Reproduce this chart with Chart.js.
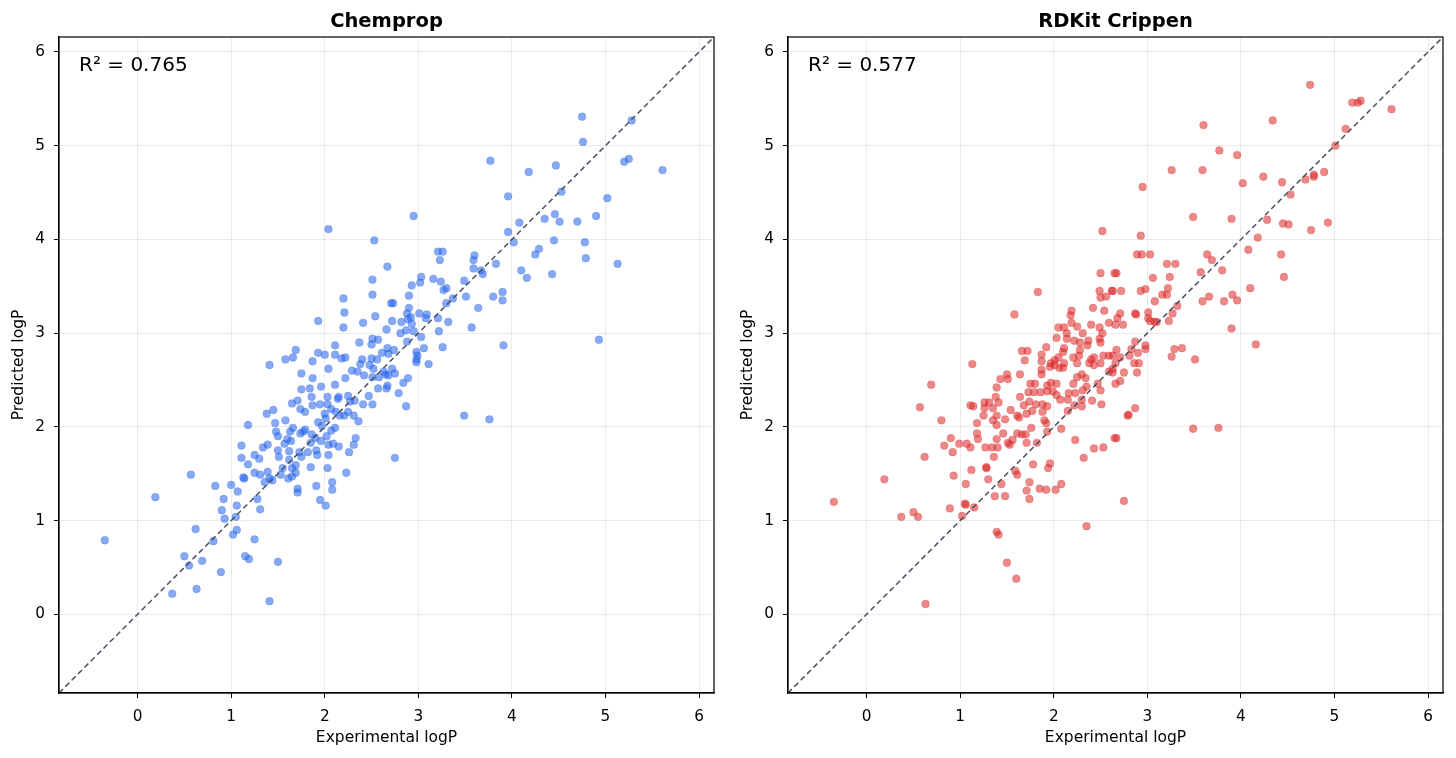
<!DOCTYPE html>
<html lang="en">
<head>
    <meta charset="UTF-8">
    <title>logP parity plots</title>
    <script src="https://cdn.jsdelivr.net/npm/chart.js"></script>
    <style>
        body { margin: 0; background: #fff; }
        canvas { position: absolute; top: 0; }
        #chemChart { left: 0; }
        #crippenChart { left: 729px; }
    </style>
</head>
<body>
    <canvas id="chemChart" width="728" height="758"></canvas>
    <canvas id="crippenChart" width="728" height="758"></canvas>

    <script>
        // axis limits shared by both panels (square, y = x line runs corner to corner)
        const axisMin = -0.84;
        const axisMax = 6.16;
        const tickValues = [0, 1, 2, 3, 4, 5, 6];

        const panelTitles = ['Chemprop', 'RDKit Crippen'];
        const r2Values = ['0.765', '0.577'];

        // Chemprop: experimental vs predicted logP
        const chemExp = [
            4.75, 5.28, 4.76, 3.77, 4.47, 4.18, 5.20, 5.25, 5.61, 3.96, 4.53, 5.02, 2.95, 4.08, 4.35, 4.46, 4.51, 4.70, 4.90, 3.96,
            4.02, 4.45, 4.78, 4.29, 4.25, 4.79, 5.13, 3.21, 3.26, 3.23, 3.60, 3.59, 3.59, 3.67, 3.69, 3.83, 4.10, 4.16, 4.43, 2.67,
            3.03, 3.02, 2.93, 3.16, 3.24, 3.27, 3.30, 3.49, 3.37, 3.30, 3.51, 3.80, 3.90, 3.90, 3.64, 2.90, 2.71, 2.73, 2.90, 2.88,
            2.92, 2.89, 3.01, 3.09, 3.08, 3.21, 3.32, 2.72, 2.82, 2.93, 2.66, 2.87, 2.95, 2.81, 3.22, 3.57, 3.03, 2.88, 3.26, 3.06,
            3.91, 4.93, 2.67, 2.74, 2.68, 2.98, 2.99, 2.98, 3.11, 2.98, 2.72, 2.75, 2.65, 2.67, 2.66, 2.84, 2.89, 2.79, 2.87, 3.49,
            3.76, 2.75, 2.04, 2.53, 2.51, 2.51, 2.20, 2.21, 2.54, 1.93, 2.41, 2.20, 2.37, 2.50, 2.51, 2.57, 2.11, 1.69, 1.93, 2.00,
            2.11, 2.18, 2.22, 1.58, 1.66, 1.87, 2.40, 2.50, 2.56, 2.61, 2.38, 2.48, 1.41, 1.75, 1.87, 2.04, 2.11, 1.75, 1.84, 1.96,
            2.22, 2.29, 2.35, 2.42, 2.52, 2.51, 2.58, 2.63, 2.68, 2.57, 2.47, 2.51, 2.41, 2.32, 2.27, 2.25, 2.15, 2.14, 2.03, 1.86,
            1.95, 1.87, 1.65, 1.71, 1.74, 1.79, 2.03, 2.07, 2.12, 2.16, 2.21, 2.25, 2.31, 2.36, 1.45, 1.38, 1.58, 1.47, 1.93, 1.97,
            2.01, 2.00, 2.11, 2.07, 1.18, 1.66, 1.79, 1.74, 1.77, 1.48, 1.50, 1.63, 1.60, 1.64, 1.39, 1.34, 1.11, 1.86, 1.90, 1.85,
            1.96, 2.02, 2.04, 2.09, 2.15, 2.31, 2.33, 1.50, 1.51, 1.57, 1.62, 1.73, 1.75, 1.82, 1.91, 1.92, 2.04, 1.11, 1.18, 1.25,
            1.30, 2.26, 1.25, 1.31, 1.39, 1.41, 1.36, 1.44, 1.53, 1.55, 1.62, 1.65, 1.69, 1.65, 1.61, 1.69, 1.85, 2.03, 2.08, 2.08,
            2.23, 1.91, 1.95, 2.01, 1.71, 1.71, 1.13, 1.14, 0.83, 1.00, 1.07, 0.57, 0.19, 0.92, 0.90, 0.93, 1.06, 1.05, 1.28, 1.31,
            1.02, 1.06, 1.25, 0.62, 0.81, -0.35, 0.50, 0.55, 0.69, 1.15, 1.19, 1.50, 0.89, 0.37, 0.63, 1.41
        ];
        const chemPred = [
            5.31, 5.27, 5.04, 4.84, 4.79, 4.72, 4.83, 4.86, 4.74, 4.46, 4.51, 4.44, 4.25, 4.18, 4.22, 4.27, 4.19, 4.19, 4.25, 4.08,
            3.97, 3.99, 3.97, 3.90, 3.84, 3.80, 3.74, 3.87, 3.87, 3.78, 3.83, 3.78, 3.69, 3.67, 3.63, 3.74, 3.67, 3.59, 3.63, 3.71,
            3.60, 3.54, 3.51, 3.58, 3.55, 3.46, 3.48, 3.56, 3.37, 3.32, 3.39, 3.39, 3.44, 3.35, 3.27, 3.40, 3.32, 3.32, 3.27, 3.21,
            3.17, 3.15, 3.21, 3.20, 3.16, 3.16, 3.12, 3.13, 3.12, 3.10, 3.04, 3.03, 3.02, 3.00, 3.02, 3.06, 2.96, 2.91, 2.85, 2.84,
            2.87, 2.93, 2.84, 2.82, 2.78, 2.80, 2.76, 2.72, 2.67, 2.69, 2.62, 2.57, 2.56, 2.44, 2.41, 2.47, 2.52, 2.36, 2.22, 2.12,
            2.08, 1.67, 4.11, 3.99, 3.57, 3.41, 3.37, 3.22, 3.18, 3.13, 3.11, 3.06, 2.90, 2.88, 2.94, 2.93, 2.87, 2.82, 2.79, 2.77,
            2.77, 2.73, 2.74, 2.72, 2.74, 2.70, 2.72, 2.73, 2.72, 2.79, 2.67, 2.66, 2.66, 2.57, 2.52, 2.62, 2.45, 2.40, 2.41, 2.43,
            2.52, 2.60, 2.59, 2.55, 2.62, 2.53, 2.53, 2.59, 2.55, 2.41, 2.33, 2.24, 2.24, 2.28, 2.27, 2.33, 2.32, 2.30, 2.32, 2.32,
            2.24, 2.23, 2.25, 2.28, 2.19, 2.16, 2.24, 2.19, 2.16, 2.12, 2.12, 2.16, 2.12, 2.06, 2.18, 2.14, 2.07, 2.04, 2.05, 2.01,
            2.09, 2.14, 1.99, 1.96, 2.02, 1.99, 1.97, 1.93, 1.95, 1.95, 1.90, 1.95, 1.87, 1.85, 1.81, 1.78, 1.80, 1.92, 1.88, 1.83,
            1.85, 1.90, 1.81, 1.82, 1.79, 1.81, 1.88, 1.75, 1.68, 1.82, 1.74, 1.73, 1.68, 1.73, 1.75, 1.70, 1.70, 1.67, 1.60, 1.70,
            1.66, 1.73, 1.51, 1.49, 1.52, 1.45, 1.41, 1.43, 1.49, 1.56, 1.65, 1.56, 1.59, 1.47, 1.45, 1.51, 1.57, 1.56, 1.41, 1.33,
            1.51, 1.37, 1.22, 1.16, 1.34, 1.30, 1.46, 1.45, 1.37, 1.38, 1.31, 1.49, 1.25, 1.23, 1.11, 1.02, 1.16, 1.04, 1.23, 1.12,
            0.85, 0.90, 0.80, 0.91, 0.78, 0.79, 0.62, 0.52, 0.57, 0.62, 0.59, 0.56, 0.45, 0.22, 0.27, 0.14
        ];

        // RDKit Crippen: experimental vs predicted logP
        const crippenExp = [
            4.74, 5.19, 5.25, 5.28, 5.61, 3.60, 4.34, 5.12, 5.01, 3.77, 3.96, 3.26, 3.59, 2.95, 4.02, 4.24, 4.44, 4.53, 4.69, 4.78,
            4.78, 4.89, 3.49, 3.90, 4.28, 4.45, 4.51, 4.75, 4.93, 2.93, 4.18, 4.08, 4.43, 2.89, 2.94, 3.03, 3.64, 3.69, 3.21, 3.30,
            2.67, 3.57, 3.80, 4.46, 3.06, 3.24, 2.63, 2.72, 2.93, 2.98, 3.22, 3.16, 3.21, 3.08, 3.59, 3.66, 3.82, 3.91, 3.96, 4.10,
            3.32, 2.71, 2.68, 2.66, 2.74, 2.87, 2.88, 3.01, 3.01, 3.03, 3.08, 3.10, 3.27, 3.23, 3.90, 4.16, 2.87, 2.83, 2.98, 2.98,
            2.67, 2.81, 2.90, 3.29, 3.37, 3.26, 3.51, 2.63, 2.71, 2.66, 2.86, 2.91, 2.63, 2.75, 2.89, 2.71, 2.66, 2.87, 2.79, 2.80,
            3.49, 3.76, 2.67, 2.75, 2.52, 2.50, 2.65, 1.83, 2.49, 2.62, 2.50, 2.56, 1.58, 2.19, 2.18, 2.42, 2.54, 2.19, 2.25, 2.40,
            2.59, 2.05, 2.11, 2.14, 2.31, 2.49, 2.52, 2.03, 2.14, 2.22, 2.28, 2.37, 2.36, 2.49, 2.50, 1.66, 1.72, 1.87, 1.92, 2.11,
            2.10, 2.28, 1.69, 1.87, 2.01, 2.05, 2.21, 2.27, 2.40, 2.43, 2.53, 2.59, 1.13, 1.97, 2.11, 2.25, 2.38, 2.50, 0.69, 0.57,
            0.80, 1.11, 1.14, 1.26, 1.31, 1.26, 1.35, 1.41, 1.38, 1.39, 1.43, 1.50, 1.51, 1.64, 1.87, 1.87, 1.96, 2.01, 2.06, 2.10,
            2.43, 1.75, 1.80, 1.93, 1.97, 2.03, 2.21, 2.25, 2.30, 2.34, 2.47, 2.59, 2.63, 1.64, 1.73, 1.79, 1.86, 1.93, 1.99, 2.03,
            2.16, 2.23, 2.31, 2.35, 2.50, 1.68, 1.74, 1.81, 1.88, 1.93, 2.07, 2.15, 2.22, 2.30, 2.30, 2.41, 2.51, 1.25, 1.35, 1.39,
            1.39, 1.48, 1.54, 1.61, 1.63, 1.71, 1.77, 1.88, 1.90, 1.92, 2.15, 1.18, 1.18, 1.19, 0.90, 0.83, 0.92, 0.99, 1.07, 1.11,
            1.27, 1.34, 1.40, 1.39, 1.46, 1.51, 1.53, 1.56, 1.61, 1.66, 1.70, 1.76, 1.71, 1.82, 1.93, 2.08, 2.23, 0.62, 1.36, 1.28,
            1.28, 1.12, 0.93, 0.19, 1.30, 1.06, 1.44, 1.59, 1.61, 1.78, 1.96, 1.94, 2.32, 2.43, 2.53, 2.65, 1.74, 1.71, 1.74, 1.85,
            1.92, 2.02, 2.08, 1.37, 1.48, -0.35, 0.89, 1.05, 1.06, 1.15, 0.37, 0.50, 0.55, 1.02, 2.35, 1.39, 1.41, 1.50, 1.60, 0.63
        ];
        const crippenPred = [
            5.65, 5.46, 5.46, 5.48, 5.39, 5.22, 5.27, 5.18, 5.00, 4.95, 4.90, 4.74, 4.74, 4.56, 4.60, 4.67, 4.61, 4.48, 4.64, 4.69,
            4.67, 4.72, 4.24, 4.22, 4.21, 4.17, 4.16, 4.10, 4.18, 4.04, 4.02, 3.89, 3.84, 3.84, 3.84, 3.84, 3.84, 3.78, 3.74, 3.74,
            3.64, 3.65, 3.67, 3.60, 3.59, 3.60, 3.45, 3.45, 3.45, 3.47, 3.48, 3.41, 3.41, 3.34, 3.34, 3.39, 3.34, 3.41, 3.35, 3.48,
            3.29, 3.21, 3.16, 3.09, 3.09, 3.21, 3.20, 3.22, 3.16, 3.13, 3.12, 3.12, 3.21, 3.13, 3.05, 2.88, 2.91, 2.83, 2.87, 2.83,
            2.82, 2.76, 2.79, 2.83, 2.84, 2.75, 2.72, 2.76, 2.74, 2.68, 2.68, 2.68, 2.58, 2.58, 2.58, 2.49, 2.46, 2.20, 2.12, 2.13,
            1.98, 1.99, 1.88, 1.21, 4.09, 3.64, 3.64, 3.44, 3.45, 3.45, 3.38, 3.39, 3.20, 3.24, 3.19, 3.27, 3.24, 3.11, 3.07, 3.09,
            3.11, 3.06, 3.06, 3.00, 3.00, 3.06, 3.00, 2.95, 2.94, 2.92, 2.90, 2.92, 2.87, 2.94, 2.90, 2.81, 2.81, 2.77, 2.85, 2.84,
            2.80, 2.82, 2.71, 2.70, 2.71, 2.74, 2.74, 2.76, 2.72, 2.74, 2.76, 2.76, 2.67, 2.68, 2.68, 2.68, 2.68, 2.68, 2.45, 2.21,
            2.07, 2.23, 2.22, 2.26, 2.26, 2.20, 2.20, 2.26, 2.32, 2.42, 2.51, 2.56, 2.51, 2.56, 2.61, 2.56, 2.64, 2.66, 2.63, 2.63,
            2.66, 2.46, 2.46, 2.44, 2.47, 2.46, 2.46, 2.53, 2.56, 2.52, 2.46, 2.59, 2.62, 2.32, 2.37, 2.37, 2.37, 2.38, 2.38, 2.34,
            2.36, 2.36, 2.39, 2.43, 2.39, 2.23, 2.27, 2.24, 2.24, 2.22, 2.29, 2.29, 2.23, 2.22, 2.29, 2.28, 2.24, 2.12, 2.07, 2.12,
            2.02, 2.08, 2.18, 2.12, 2.10, 2.14, 2.17, 2.16, 2.07, 2.04, 2.17, 2.04, 1.93, 1.87, 1.88, 1.80, 1.73, 1.82, 1.82, 1.78,
            1.78, 1.78, 1.78, 1.87, 1.93, 1.83, 1.81, 1.86, 1.93, 1.92, 1.92, 1.99, 1.83, 1.83, 1.95, 1.98, 1.86, 1.68, 1.68, 1.57,
            1.56, 1.54, 1.48, 1.44, 1.44, 1.39, 1.39, 1.53, 1.49, 1.60, 1.61, 1.56, 1.67, 1.77, 1.78, 1.88, 1.41, 1.32, 1.23, 1.34,
            1.33, 1.33, 1.39, 1.26, 1.26, 1.20, 1.13, 1.18, 1.17, 1.14, 1.04, 1.09, 1.04, 1.05, 0.94, 0.88, 0.85, 0.55, 0.38, 0.11
        ];

        Chart.defaults.font.family = '"DejaVu Sans", sans-serif';
        Chart.defaults.color = '#000';

        // outer frame (all four spines), the panel title centred over the plot and the R² note
        const framePlugin = {
            id: 'frame',
            afterDraw(chart, args, opts) {
                const { ctx, chartArea: a } = chart;
                ctx.save();
                ctx.strokeStyle = '#000';
                ctx.lineWidth = 1.2;
                ctx.strokeRect(a.left, a.top, a.right - a.left, a.bottom - a.top);
                ctx.fillStyle = '#000';
                ctx.textBaseline = 'alphabetic';
                ctx.font = 'bold 19.5px "DejaVu Sans"';
                ctx.textAlign = 'center';
                ctx.fillText(opts.title, (a.left + a.right) / 2, 26.5);
                ctx.font = '20px "DejaVu Sans"';
                ctx.textAlign = 'left';
                ctx.fillText('R² = ' + opts.r2, a.left + 20, a.top + 34);
                ctx.restore();
            }
        };

        function makePanel(canvasId, title, r2, xs, ys, rgb) {
            const points = xs.map((x, i) => ({ x: x, y: ys[i] }));
            const axis = (label, isX) => ({
                type: 'linear',
                min: axisMin,
                max: axisMax,
                afterBuildTicks: s => { s.ticks = tickValues.map(v => ({ value: v })); },
                afterFit: s => { if (isX) s.height = 65; else s.width = 59; },
                grid: { color: 'rgba(0,0,0,0.08)', lineWidth: 1, tickColor: '#000', tickLength: 5 },
                border: { color: '#000', width: 1.2 },
                ticks: { font: { size: 15.3 }, padding: isX ? 10 : 9, color: '#000' },
                title: {
                    display: true, text: label, font: { size: 15.5 },
                    padding: isX ? { top: 0, bottom: 11 } : { top: 10, bottom: 0 }
                }
            });

            return new Chart(document.getElementById(canvasId), {
                type: 'scatter',
                data: {
                    datasets: [
                        {
                            type: 'line',
                            data: [{ x: axisMin, y: axisMin }, { x: axisMax, y: axisMax }],
                            borderColor: '#4a5060',
                            borderWidth: 1.5,
                            borderDash: [5.5, 3.5],
                            pointRadius: 0,
                            order: 0
                        },
                        {
                            data: points,
                            backgroundColor: 'rgba(' + rgb + ',0.55)',
                            borderColor: 'rgba(' + rgb + ',0.35)',
                            borderWidth: 0.6,
                            pointRadius: 3.9,
                            order: 1
                        }
                    ]
                },
                options: {
                    responsive: false,
                    animation: false,
                    layout: { padding: { top: 37, right: 14, bottom: 0, left: 0 } },
                    plugins: {
                        legend: { display: false },
                        tooltip: { enabled: false },
                        frame: { r2: r2, title: title }
                    },
                    scales: {
                        x: axis('Experimental logP', true),
                        y: axis('Predicted logP', false)
                    }
                },
                plugins: [framePlugin]
            });
        }

        makePanel('chemChart', panelTitles[0], r2Values[0], chemExp, chemPred, '37,99,235');
        makePanel('crippenChart', panelTitles[1], r2Values[1], crippenExp, crippenPred, '220,38,38');
    </script>
</body>
</html>
